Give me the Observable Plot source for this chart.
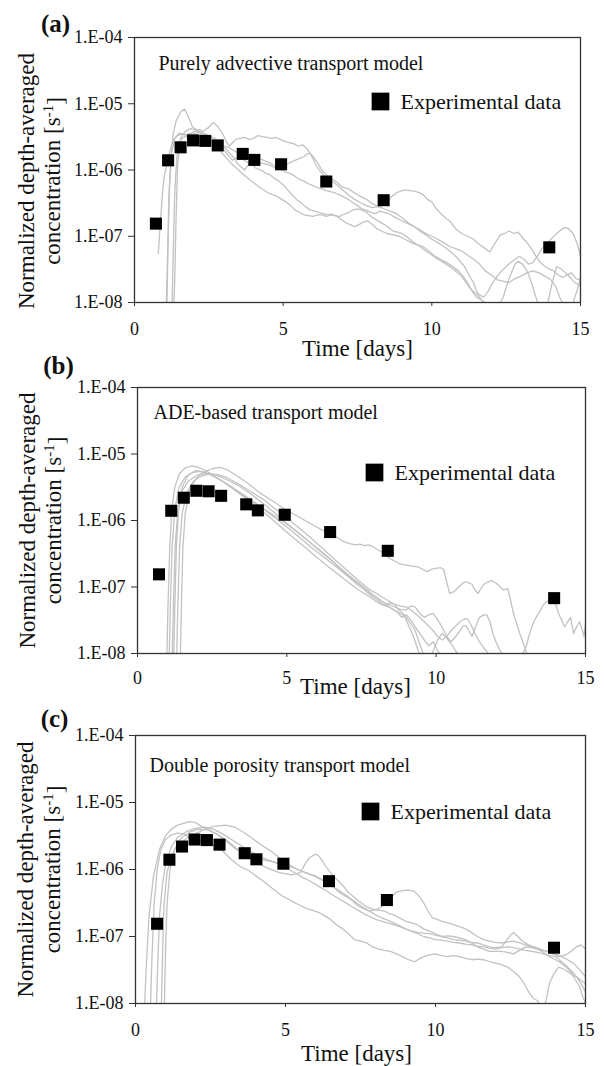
<!DOCTYPE html>
<html><head><meta charset="utf-8">
<script src="https://cdn.jsdelivr.net/npm/d3@7"></script>
<script src="https://cdn.jsdelivr.net/npm/@observablehq/plot@0.6"></script>
<style>
body{margin:0;background:#fff;width:606px;height:1066px;position:relative;overflow:hidden}
.panel{position:absolute;left:0}
svg{overflow:visible}
</style></head><body>
<div id="pa" class="panel" style="top:0px"></div>
<div id="pb" class="panel" style="top:340px"></div>
<div id="pc" class="panel" style="top:700px"></div>
<script>
// ---------- data ----------
const expDays = [0.72, 1.13, 1.55, 1.97, 2.38, 2.8, 3.64, 4.03, 4.93, 6.45, 8.38, 13.95];
const expConc = [1.55e-7, 1.4e-6, 2.2e-6, 2.8e-6, 2.75e-6, 2.35e-6, 1.75e-6, 1.42e-6, 1.22e-6, 6.7e-7, 3.5e-7, 6.8e-8];

const yTicks = [1e-8, 1e-7, 1e-6, 1e-5, 1e-4];
const yTickLabels = ["1.E-08", "1.E-07", "1.E-06", "1.E-05", "1.E-04"];
const xTicks = [0, 5, 10, 15];
const panelLetters = ["(a)", "(b)", "(c)"];
const modelNames = ["Purely advective transport model", "ADE-based transport model", "Double porosity transport model"];
const legendLabel = "Experimental data";
const xLabel = "Time [days]";
const yLabelLines = ["Normalized depth-averaged", "concentration [s-1]"];

// (a) purely advective model runs: [day, concentration]
const adv1 = [[1.25,5e-9],[1.3,5e-8],[1.35,4e-7],[1.42,1.5e-6],[1.5,2.6e-6],[1.6,3.0e-6],[1.7,3.2e-6],[1.8,3.5e-6],[1.9,3.6e-6],[2.0,3.8e-6],[2.1,3.9e-6],[2.2,4.1e-6],[2.3,3.8e-6],[2.4,4.1e-6],[2.5,4.4e-6],[2.58,4.9e-6],[2.65,5.2e-6],[2.72,4.9e-6],[2.8,4.5e-6],[2.9,3.9e-6],[3.0,3.3e-6],[3.1,2.6e-6],[3.2,2.3e-6],[3.3,2.6e-6],[3.4,2.9e-6],[3.55,3.0e-6],[3.7,3.1e-6],[3.85,2.9e-6],[4.0,3.0e-6],[4.15,3.3e-6],[4.3,3.2e-6],[4.45,3.1e-6],[4.6,3.0e-6],[4.75,3.1e-6],[4.9,2.9e-6],[5.05,2.7e-6],[5.2,2.6e-6],[5.35,2.5e-6],[5.5,2.3e-6],[5.65,2.4e-6],[5.8,2.1e-6],[5.9,1.8e-6],[6.0,1.6e-6],[6.15,1.3e-6],[6.3,1.0e-6],[6.45,8.5e-7],[6.6,7.5e-7],[6.8,6.6e-7],[7.0,5.5e-7],[7.2,5.2e-7],[7.4,4.5e-7],[7.6,4.0e-7],[7.8,3.6e-7],[8.0,3.1e-7],[8.2,2.8e-7],[8.35,3.0e-7],[8.5,3.3e-7],[8.65,4.0e-7],[8.8,4.5e-7],[8.95,4.8e-7],[9.1,5e-7],[9.25,4.9e-7],[9.4,4.8e-7],[9.55,4.6e-7],[9.7,4.3e-7],[9.85,3.6e-7],[10.0,3.3e-7],[10.15,2.6e-7],[10.3,2.2e-7],[10.45,1.9e-7],[10.6,1.7e-7],[10.8,1.3e-7],[11.0,1.1e-7],[11.2,1.0e-7],[11.4,9e-8],[11.6,7.5e-8],[11.8,6.5e-8],[11.95,5.8e-8],[12.1,7.5e-8],[12.3,1.05e-7],[12.45,1.1e-7],[12.6,1.2e-7],[12.75,1.1e-7],[12.9,1.15e-7],[13.05,9.5e-8],[13.2,8e-8],[13.35,6.5e-8],[13.5,5e-8],[13.65,4e-8],[13.8,3.5e-8],[13.95,3.2e-8],[14.1,3e-8],[14.25,2.6e-8],[14.4,2.4e-8],[14.55,2.6e-8],[14.7,2.8e-8],[14.85,2.3e-8],[15.0,2.2e-8]];
const adv2 = [[1.05,5e-9],[1.1,3e-8],[1.15,3e-7],[1.22,1.5e-6],[1.3,3.5e-6],[1.4,5.5e-6],[1.55,7.5e-6],[1.68,8.3e-6],[1.8,6.5e-6],[1.95,4.5e-6],[2.1,4.0e-6],[2.3,3.6e-6],[2.5,3.3e-6],[2.7,3.0e-6],[2.9,2.5e-6],[3.1,2.0e-6],[3.3,1.6e-6],[3.5,1.2e-6],[3.7,1.0e-6],[3.8,1.15e-6],[3.9,1.3e-6],[4.05,1.45e-6],[4.2,1.5e-6],[4.35,1.4e-6],[4.5,1.3e-6],[4.65,1.2e-6],[4.8,1.1e-6],[4.95,1.15e-6],[5.1,1.2e-6],[5.25,1.3e-6],[5.4,1.4e-6],[5.55,1.5e-6],[5.7,1.6e-6],[5.8,1.75e-6],[5.9,1.8e-6],[6.0,1.5e-6],[6.1,1.2e-6],[6.25,9.5e-7],[6.4,8e-7],[6.6,7e-7],[6.8,6e-7],[7.0,5e-7],[7.2,4.2e-7],[7.4,3.6e-7],[7.6,3.2e-7],[7.8,2.9e-7],[8.0,2.7e-7],[8.2,2.8e-7],[8.4,2.6e-7],[8.6,2.4e-7],[8.8,2.2e-7],[9.0,1.9e-7],[9.2,1.6e-7],[9.4,1.4e-7],[9.6,1.2e-7],[9.8,1.05e-7],[10.0,9e-8],[10.2,8e-8],[10.4,7e-8],[10.6,6e-8],[10.8,5e-8],[10.95,4.2e-8],[11.1,3.5e-8],[11.25,2.6e-8],[11.4,2e-8],[11.5,1.5e-8],[11.6,1.3e-8],[11.75,1.2e-8],[11.9,1.5e-8],[12.05,2e-8],[12.2,2.5e-8],[12.35,3e-8],[12.5,3.5e-8],[12.65,4e-8],[12.8,4.5e-8],[12.95,5e-8],[13.1,4.5e-8],[13.25,3.8e-8],[13.4,4e-8],[13.55,5e-8],[13.7,6.5e-8],[13.85,7.5e-8],[14.0,9e-8],[14.15,1.05e-7],[14.3,1.2e-7],[14.45,1.35e-7],[14.6,1.3e-7],[14.75,1.1e-7],[14.9,7.5e-8],[15.0,5e-8]];
const adv3 = [[1.3,5e-9],[1.35,2e-8],[1.4,2e-7],[1.45,1.2e-6],[1.55,3e-6],[1.7,3.8e-6],[1.9,4.2e-6],[2.1,4.0e-6],[2.3,3.2e-6],[2.5,2.6e-6],[2.6,2.7e-6],[2.7,2.8e-6],[2.8,2.6e-6],[2.9,2.3e-6],[3.0,2.0e-6],[3.1,1.8e-6],[3.2,1.55e-6],[3.3,1.4e-6],[3.4,1.5e-6],[3.5,1.6e-6],[3.65,1.45e-6],[3.8,1.3e-6],[3.95,1.2e-6],[4.1,1.05e-6],[4.25,1.0e-6],[4.4,9e-7],[4.55,8.5e-7],[4.7,7.5e-7],[4.85,6.8e-7],[5.0,6e-7],[5.15,5e-7],[5.3,4.2e-7],[5.45,3.6e-7],[5.6,3.2e-7],[5.75,2.8e-7],[5.9,2.5e-7],[6.05,2.4e-7],[6.2,2.3e-7],[6.35,2.2e-7],[6.5,2.1e-7],[6.65,2.15e-7],[6.8,2e-7],[6.95,1.8e-7],[7.1,1.6e-7],[7.25,1.5e-7],[7.4,1.4e-7],[7.55,1.5e-7],[7.7,1.65e-7],[7.85,1.7e-7],[8.0,1.5e-7],[8.15,1.3e-7],[8.3,1.2e-7],[8.5,1.1e-7],[8.7,1.05e-7],[8.9,1.0e-7],[9.1,9e-8],[9.3,8e-8],[9.5,7.5e-8],[9.7,7e-8],[9.9,6e-8],[10.1,5e-8],[10.3,4.5e-8],[10.5,4e-8],[10.7,3.5e-8],[10.9,3e-8],[11.05,2.5e-8],[11.2,2e-8],[11.35,1.5e-8],[11.5,1.2e-8],[11.65,1.1e-8],[11.8,1e-8],[11.95,9e-9],[12.1,8e-9],[12.25,9e-9],[12.4,1.2e-8],[12.55,2e-8],[12.7,3e-8],[12.8,3.8e-8],[12.9,4.2e-8],[13.05,3.8e-8],[13.2,3e-8],[13.35,2e-8],[13.5,1.2e-8],[13.6,9e-9],[13.7,8e-9],[13.8,8.5e-9],[13.9,1e-8],[14.05,2e-8],[14.2,3.5e-8],[14.35,3.2e-8],[14.5,2.8e-8],[14.65,2.4e-8],[14.8,2e-8],[14.9,1.9e-8],[15.0,1.8e-8]];
const adv4 = [[0.8,5.5e-8],[0.85,1.2e-7],[0.9,2.5e-7],[0.95,5e-7],[1.0,8e-7],[1.1,1.3e-6],[1.2,2.0e-6],[1.3,2.8e-6],[1.45,3.3e-6],[1.6,3.5e-6],[1.8,3.4e-6],[2.0,3.5e-6],[2.2,3.8e-6],[2.4,3.3e-6],[2.6,2.9e-6],[2.8,2.6e-6],[3.0,2.3e-6],[3.15,2.2e-6],[3.3,2.0e-6],[3.45,1.85e-6],[3.6,1.75e-6],[3.75,1.6e-6],[3.9,1.45e-6],[4.05,1.4e-6],[4.2,1.3e-6],[4.35,1.25e-6],[4.5,1.2e-6],[4.65,1.12e-6],[4.8,1.05e-6],[4.95,1.0e-6],[5.1,9.2e-7],[5.25,8.8e-7],[5.4,8e-7],[5.55,7.2e-7],[5.7,6.8e-7],[5.85,6.2e-7],[6.0,5.8e-7],[6.15,5.4e-7],[6.3,5.2e-7],[6.45,4.9e-7],[6.6,4.7e-7],[6.75,4.5e-7],[6.9,4.2e-7],[7.05,3.9e-7],[7.2,3.6e-7],[7.35,3.2e-7],[7.5,2.9e-7],[7.65,2.6e-7],[7.8,2.45e-7],[7.95,2.3e-7],[8.1,2.2e-7],[8.25,2.4e-7],[8.4,2.3e-7],[8.55,2.2e-7],[8.7,2.0e-7],[8.85,1.85e-7],[9.0,1.7e-7],[9.2,1.55e-7],[9.4,1.4e-7],[9.6,1.25e-7],[9.8,1.1e-7],[10.0,1.0e-7],[10.2,9e-8],[10.4,8e-8],[10.6,7e-8],[10.8,6.5e-8],[11.0,6e-8],[11.2,5.2e-8],[11.4,4.5e-8],[11.6,3.8e-8],[11.8,3e-8],[12.0,2.6e-8],[12.2,2.2e-8],[12.4,2.1e-8],[12.6,2e-8],[12.8,2.3e-8],[13.0,2.5e-8],[13.2,2.8e-8],[13.4,3e-8],[13.6,2.8e-8],[13.8,2.5e-8],[14.0,2.2e-8],[14.15,1.8e-8],[14.3,1.2e-8],[14.45,9e-9],[14.6,8e-9],[14.75,1e-8],[14.9,1.6e-8],[15.0,2.3e-8]];
const adv5 = [[1.08,5e-9],[1.12,5e-8],[1.17,5e-7],[1.25,1.8e-6],[1.35,3e-6],[1.5,3.6e-6],[1.7,3.4e-6],[1.9,2.6e-6],[2.1,2.5e-6],[2.3,3.0e-6],[2.5,2.7e-6],[2.7,2.3e-6],[2.9,1.9e-6],[3.1,1.5e-6],[3.3,1.2e-6],[3.45,1.05e-6],[3.6,9e-7],[3.75,8e-7],[3.9,7e-7],[4.05,6.2e-7],[4.2,5.5e-7],[4.35,5e-7],[4.5,4.5e-7],[4.65,4.2e-7],[4.8,4e-7],[4.95,3.6e-7],[5.1,3.3e-7],[5.25,2.9e-7],[5.4,2.5e-7],[5.55,2.3e-7],[5.7,2.1e-7],[5.85,2.05e-7],[6.0,2.0e-7],[6.15,2.1e-7],[6.3,2.1e-7],[6.45,2.0e-7],[6.6,2.1e-7],[6.75,2.05e-7],[6.9,2e-7],[7.05,2.15e-7],[7.2,2.3e-7],[7.35,2.5e-7],[7.5,2.6e-7],[7.65,2.5e-7],[7.8,2.3e-7],[7.95,2.0e-7],[8.1,1.8e-7],[8.25,1.65e-7],[8.4,1.5e-7],[8.55,1.35e-7],[8.7,1.2e-7],[8.85,1.15e-7],[9.0,1.1e-7],[9.2,9.5e-8],[9.4,8e-8],[9.6,7e-8],[9.8,6e-8],[10.0,5.2e-8],[10.2,4.5e-8],[10.4,4e-8],[10.6,3.5e-8],[10.8,3e-8],[11.0,2.5e-8],[11.15,2e-8],[11.3,1.6e-8],[11.45,1.4e-8],[11.6,1.2e-8],[11.75,1e-8],[11.9,8e-9],[12.1,9e-9],[12.3,8e-9],[12.5,9e-9],[12.7,8e-9]];

// (b) ADE-based model runs
const ade1 = [[0.97,5e-9],[1.02,5e-8],[1.08,4e-7],[1.15,1.5e-6],[1.25,3.2e-6],[1.4,5e-6],[1.6,6.2e-6],[1.8,6.6e-6],[2.0,6.4e-6],[2.3,5.6e-6],[2.6,4.6e-6],[3.0,3.5e-6],[3.4,2.6e-6],[3.8,2e-6],[4.2,1.5e-6],[4.6,1.1e-6],[5.0,8e-7],[5.4,5.7e-7],[5.8,4e-7],[6.2,2.9e-7],[6.6,2.1e-7],[7.0,1.5e-7],[7.2,1.25e-7],[7.4,1.05e-7],[7.6,9e-8],[7.8,7.5e-8],[8.0,6.5e-8],[8.2,5.5e-8],[8.4,5e-8],[8.6,4.5e-8],[8.8,4e-8],[9.0,3.5e-8],[9.15,2.8e-8],[9.3,2.2e-8],[9.4,1.6e-8],[9.5,1.2e-8],[9.6,9e-9],[9.7,8e-9],[9.8,9e-9],[9.9,1.1e-8],[10.05,1.6e-8],[10.2,2e-8],[10.35,1.7e-8],[10.5,1.4e-8],[10.65,1.1e-8],[10.8,9e-9],[11.0,8e-9]];
const ade2 = [[1.42,5e-9],[1.47,5e-8],[1.52,4e-7],[1.6,1.3e-6],[1.75,2.8e-6],[1.95,4.2e-6],[2.2,5.3e-6],[2.5,6.0e-6],[2.75,6.3e-6],[3.0,5.8e-6],[3.3,4.8e-6],[3.7,3.6e-6],[4.1,2.6e-6],[4.5,2.0e-6],[4.9,1.5e-6],[5.3,1.2e-6],[5.7,9.5e-7],[6.1,7.5e-7],[6.5,6.2e-7],[6.7,5.5e-7],[6.9,4.8e-7],[7.1,4.5e-7],[7.3,4.3e-7],[7.45,4.4e-7],[7.6,4.2e-7],[7.75,4.3e-7],[7.9,4e-7],[8.05,3.6e-7],[8.2,3.3e-7],[8.35,2.9e-7],[8.5,2.6e-7],[8.65,2.4e-7],[8.8,2.2e-7],[8.95,2.15e-7],[9.1,2.1e-7],[9.25,2.05e-7],[9.4,2e-7],[9.55,1.85e-7],[9.7,1.7e-7],[9.85,1.85e-7],[10.0,1.9e-7],[10.15,1.95e-7],[10.25,1.85e-7],[10.35,1.2e-7],[10.45,8e-8],[10.6,8.5e-8],[10.75,1e-7],[10.9,1.15e-7],[11.0,1.2e-7],[11.1,1.15e-7],[11.2,1.1e-7],[11.3,9e-8],[11.4,8e-8],[11.5,9.5e-8],[11.6,1.1e-7],[11.75,1.2e-7],[11.85,1.25e-7],[12.0,1.15e-7],[12.1,1.05e-7],[12.25,9e-8],[12.4,9.5e-8],[12.5,6e-8],[12.6,3.8e-8],[12.7,2.8e-8],[12.8,2e-8],[12.9,1.5e-8],[13.0,1.1e-8],[13.1,8e-9]];
const ade3 = [[1.15,5e-9],[1.2,5e-8],[1.26,4e-7],[1.35,1.4e-6],[1.5,2.8e-6],[1.7,3.9e-6],[2.0,4.8e-6],[2.3,5.1e-6],[2.6,4.9e-6],[3.0,4.1e-6],[3.4,3.3e-6],[3.8,2.5e-6],[4.2,1.8e-6],[4.6,1.3e-6],[5.0,9e-7],[5.4,6.5e-7],[5.8,4.6e-7],[6.2,3.3e-7],[6.6,2.3e-7],[7.0,1.6e-7],[7.2,1.35e-7],[7.4,1.15e-7],[7.6,9.5e-8],[7.8,8e-8],[8.0,7e-8],[8.2,6e-8],[8.4,5.5e-8],[8.6,5e-8],[8.8,4.6e-8],[9.0,4.5e-8],[9.15,5.2e-8],[9.3,5e-8],[9.45,4e-8],[9.6,3.5e-8],[9.75,3.8e-8],[9.9,4e-8],[10.05,3.2e-8],[10.2,2.5e-8],[10.35,1.8e-8],[10.5,1.5e-8],[10.65,1.8e-8],[10.8,2.2e-8],[10.9,2.6e-8],[11.0,2.6e-8],[11.1,2.2e-8],[11.2,1.8e-8],[11.3,2.4e-8],[11.45,3.5e-8],[11.6,3.8e-8],[11.7,3.8e-8],[11.8,3e-8],[11.9,2e-8],[12.0,1.5e-8],[12.1,1.2e-8],[12.2,1e-8],[12.3,9e-9],[12.6,8e-9],[12.9,1e-8],[13.0,1.2e-8],[13.1,1.8e-8],[13.2,2.5e-8],[13.3,3.2e-8],[13.4,3.8e-8],[13.5,4.5e-8],[13.6,5.5e-8],[13.7,6e-8],[13.8,6.5e-8],[13.9,7e-8],[14.0,5.5e-8],[14.1,4e-8],[14.2,3.2e-8],[14.3,2.5e-8],[14.4,3e-8],[14.5,3.5e-8],[14.6,2e-8],[14.7,2.5e-8],[14.8,3e-8],[14.9,2.2e-8],[14.95,1.8e-8],[15.0,2.8e-8],[15.05,3.5e-8]];
const ade4 = [[1.05,5e-9],[1.1,5e-8],[1.16,4e-7],[1.25,1.5e-6],[1.4,3.2e-6],[1.6,4.5e-6],[1.85,5.3e-6],[2.1,5.5e-6],[2.4,5.0e-6],[2.8,4.0e-6],[3.2,3.0e-6],[3.6,2.2e-6],[4.0,1.6e-6],[4.4,1.15e-6],[4.8,8e-7],[5.2,5.6e-7],[5.6,4e-7],[6.0,2.8e-7],[6.4,2e-7],[6.8,1.45e-7],[7.2,1.05e-7],[7.4,9e-8],[7.6,8e-8],[7.8,7e-8],[8.0,6e-8],[8.15,5.5e-8],[8.3,5.2e-8],[8.45,5.8e-8],[8.6,5.5e-8],[8.75,4.5e-8],[8.9,4e-8],[9.0,3.2e-8],[9.1,2.5e-8],[9.2,2e-8],[9.3,1.5e-8],[9.4,1.1e-8],[9.5,9e-9],[9.7,8e-9]];
const ade5 = [[1.3,5e-9],[1.35,5e-8],[1.41,4e-7],[1.5,1.3e-6],[1.65,2.6e-6],[1.85,3.8e-6],[2.1,4.6e-6],[2.4,5.0e-6],[2.7,4.9e-6],[3.0,4.4e-6],[3.4,3.5e-6],[3.8,2.7e-6],[4.2,2.1e-6],[4.6,1.5e-6],[5.0,1.1e-6],[5.4,7.8e-7],[5.8,5.5e-7],[6.2,3.8e-7],[6.6,2.6e-7],[7.0,1.8e-7],[7.2,1.5e-7],[7.4,1.25e-7],[7.6,1.05e-7],[7.8,9e-8],[8.0,8e-8],[8.2,7e-8],[8.4,6.2e-8],[8.6,5.5e-8],[8.8,5.2e-8],[9.0,5e-8],[9.15,4.5e-8],[9.3,4e-8],[9.45,3.5e-8],[9.6,3e-8],[9.75,2.6e-8],[9.9,2.2e-8],[10.05,1.8e-8],[10.2,1.6e-8],[10.35,1.8e-8],[10.5,2.2e-8],[10.65,2.6e-8],[10.8,3e-8],[10.95,3.3e-8],[11.05,3.3e-8],[11.15,2.8e-8],[11.3,2e-8],[11.45,1.5e-8],[11.6,1.2e-8],[11.75,1e-8],[11.9,9e-9],[12.2,8e-9]];
const ade6 = [[1.2,5e-9],[1.25,5e-8],[1.3,4e-7],[1.38,1.5e-6],[1.5,3.2e-6],[1.7,4.8e-6],[1.95,5.6e-6],[2.2,5.4e-6],[2.5,4.8e-6],[2.9,3.8e-6],[3.3,2.9e-6],[3.7,2.2e-6],[4.1,1.65e-6],[4.5,1.25e-6],[4.9,9.5e-7],[5.3,7e-7],[5.7,5e-7],[6.1,3.5e-7],[6.5,2.5e-7],[6.9,1.7e-7],[7.3,1.2e-7],[7.5,1.05e-7],[7.7,9e-8],[7.9,7.5e-8],[8.1,6.5e-8],[8.3,5.5e-8],[8.5,4.8e-8],[8.7,4.2e-8],[8.85,3.5e-8],[9.0,3.8e-8],[9.15,3.2e-8],[9.3,2.5e-8],[9.45,2e-8],[9.6,1.6e-8],[9.75,1.3e-8],[9.9,1.5e-8],[10.05,1.1e-8],[10.2,9e-9],[10.4,8e-9]];

// (c) double porosity model runs
const dpo1 = [[0.28,5e-9],[0.35,3e-8],[0.45,2e-7],[0.6,8e-7],[0.8,2e-6],[1.0,3.2e-6],[1.2,4e-6],[1.4,4.6e-6],[1.6,4.9e-6],[1.8,5.2e-6],[2.0,5e-6],[2.2,4.4e-6],[2.5,3.8e-6],[2.8,3.2e-6],[3.1,2.6e-6],[3.4,2e-6],[3.7,1.6e-6],[4.0,1.3e-6],[4.4,1.05e-6],[4.8,9e-7],[5.2,8.3e-7],[5.5,9e-7],[5.65,1.2e-6],[5.8,1.5e-6],[5.9,1.6e-6],[6.0,1.7e-6],[6.1,1.6e-6],[6.2,1.4e-6],[6.35,1.1e-6],[6.5,9e-7],[6.65,7.5e-7],[6.8,6.5e-7],[6.95,5.5e-7],[7.1,4.5e-7],[7.25,4e-7],[7.4,3.5e-7],[7.55,3.1e-7],[7.7,2.8e-7],[7.85,2.6e-7],[8.0,2.5e-7],[8.15,2.45e-7],[8.3,2.4e-7],[8.45,2.2e-7],[8.6,2.1e-7],[8.8,1.9e-7],[9.0,1.7e-7],[9.2,1.6e-7],[9.4,1.5e-7],[9.6,1.3e-7],[9.8,1.2e-7],[10.0,1.1e-7],[10.2,1e-7],[10.4,9.5e-8],[10.6,9e-8],[10.8,8.8e-8],[11.0,8.5e-8],[11.2,8.2e-8],[11.4,8e-8],[11.6,7.5e-8],[11.8,7e-8],[12.0,6.8e-8],[12.2,7e-8],[12.35,8.5e-8],[12.5,1.05e-7],[12.6,1.15e-7],[12.75,1e-7],[12.9,8.5e-8],[13.1,7.5e-8],[13.3,7e-8],[13.5,6.5e-8],[13.7,6e-8],[13.9,5.5e-8],[14.1,5e-8],[14.25,5.2e-8],[14.4,5.5e-8],[14.55,6.2e-8],[14.7,7e-8],[14.85,7.5e-8],[15.0,6.5e-8]];
const dpo2 = [[0.85,5e-9],[0.9,5e-8],[0.95,3e-7],[1.05,9e-7],[1.2,1.6e-6],[1.4,2.3e-6],[1.7,2.9e-6],[2.0,3.4e-6],[2.3,4.0e-6],[2.6,4.4e-6],[3.0,4.6e-6],[3.3,4.3e-6],[3.6,3.6e-6],[3.9,2.9e-6],[4.2,2.3e-6],[4.5,1.9e-6],[4.8,1.5e-6],[5.1,1.2e-6],[5.4,1.0e-6],[5.6,9.2e-7],[5.8,8.5e-7],[6.0,8e-7],[6.2,7.2e-7],[6.4,6.5e-7],[6.6,5.5e-7],[6.8,4.5e-7],[7.0,4e-7],[7.2,3.5e-7],[7.4,2.9e-7],[7.6,2.6e-7],[7.8,2.4e-7],[7.95,2.5e-7],[8.1,2.6e-7],[8.25,2.9e-7],[8.4,3.3e-7],[8.55,4e-7],[8.7,4.6e-7],[8.85,4.8e-7],[9.0,4.9e-7],[9.15,4.9e-7],[9.3,4.7e-7],[9.45,4e-7],[9.6,3.2e-7],[9.75,2.4e-7],[9.9,1.9e-7],[10.05,1.8e-7],[10.2,1.7e-7],[10.4,1.6e-7],[10.6,1.5e-7],[10.8,1.4e-7],[11.0,1.3e-7],[11.2,1.15e-7],[11.4,1e-7],[11.6,9e-8],[11.8,8.5e-8],[12.0,8.2e-8],[12.2,8e-8],[12.4,8.3e-8],[12.6,8.5e-8],[12.8,8e-8],[13.0,7.5e-8],[13.2,7e-8],[13.4,6.5e-8],[13.6,5.8e-8],[13.8,5e-8],[14.0,4.5e-8],[14.2,4e-8],[14.35,3.5e-8],[14.5,3e-8],[14.65,2.3e-8],[14.8,1.8e-8],[14.9,1.3e-8],[15.0,1e-8]];
const dpo3 = [[0.48,5e-9],[0.55,5e-8],[0.62,3e-7],[0.72,1e-6],[0.85,2.0e-6],[1.0,2.8e-6],[1.2,3.3e-6],[1.4,3.5e-6],[1.6,3.4e-6],[1.8,3.0e-6],[2.0,2.8e-6],[2.3,2.6e-6],[2.6,2.3e-6],[2.9,1.9e-6],[3.2,1.4e-6],[3.5,1.1e-6],[3.8,9.5e-7],[4.1,7.5e-7],[4.3,6.5e-7],[4.5,5.5e-7],[4.7,4.7e-7],[4.9,4e-7],[5.1,3.6e-7],[5.3,3.2e-7],[5.5,2.9e-7],[5.7,2.6e-7],[5.9,2.45e-7],[6.1,2.3e-7],[6.3,2.05e-7],[6.5,1.8e-7],[6.7,1.5e-7],[6.9,1.3e-7],[7.1,1.1e-7],[7.3,9e-8],[7.5,8.5e-8],[7.7,8e-8],[7.9,7e-8],[8.1,6.5e-8],[8.3,6.2e-8],[8.5,6e-8],[8.7,5.5e-8],[8.9,5e-8],[9.1,4.5e-8],[9.3,4.2e-8],[9.45,4.6e-8],[9.6,5e-8],[9.8,5.3e-8],[10.0,5.5e-8],[10.2,5.2e-8],[10.4,5e-8],[10.6,5.2e-8],[10.8,5e-8],[11.0,4.7e-8],[11.2,4.5e-8],[11.4,4.6e-8],[11.6,4.5e-8],[11.8,4.2e-8],[12.0,4e-8],[12.2,3.8e-8],[12.4,3.5e-8],[12.6,3e-8],[12.8,2.5e-8],[12.95,2e-8],[13.1,1.5e-8],[13.25,1.2e-8],[13.4,1.1e-8],[13.5,9e-9],[13.6,8e-9],[13.7,1.2e-8],[13.8,2e-8],[13.95,2.8e-8],[14.1,3.5e-8],[14.25,3.3e-8],[14.4,3e-8],[14.55,2.7e-8],[14.7,2.5e-8],[14.85,2.2e-8],[15.0,2e-8]];
const dpo4 = [[0.7,1e-8],[0.75,5e-8],[0.8,2e-7],[0.9,6e-7],[1.0,1.2e-6],[1.2,2.2e-6],[1.4,3.0e-6],[1.7,3.7e-6],[2.0,4.1e-6],[2.3,4.3e-6],[2.6,4.0e-6],[2.9,3.4e-6],[3.2,2.8e-6],[3.5,2.3e-6],[3.8,1.9e-6],[4.1,1.6e-6],[4.4,1.4e-6],[4.8,1.2e-6],[5.0,1.08e-6],[5.2,9.5e-7],[5.4,8.5e-7],[5.6,7.5e-7],[5.8,6.8e-7],[6.0,6e-7],[6.2,5.3e-7],[6.4,4.7e-7],[6.6,4.1e-7],[6.8,3.6e-7],[7.0,3.2e-7],[7.2,2.8e-7],[7.4,2.5e-7],[7.6,2.2e-7],[7.8,2e-7],[8.0,1.8e-7],[8.2,1.7e-7],[8.4,1.6e-7],[8.6,1.5e-7],[8.8,1.4e-7],[9.0,1.3e-7],[9.2,1.2e-7],[9.4,1.1e-7],[9.6,1.0e-7],[9.8,9.5e-8],[10.0,9e-8],[10.2,8.8e-8],[10.4,8.5e-8],[10.6,8.2e-8],[10.8,8e-8],[11.0,7.7e-8],[11.2,7.5e-8],[11.4,7.2e-8],[11.6,7e-8],[11.8,6.7e-8],[12.0,6.5e-8],[12.2,6.8e-8],[12.4,7e-8],[12.6,6.8e-8],[12.8,6.5e-8],[13.0,6.2e-8],[13.2,6e-8],[13.4,5.8e-8],[13.6,5.5e-8],[13.8,5.2e-8],[14.0,5e-8],[14.2,4.2e-8],[14.4,3.5e-8],[14.55,3e-8],[14.7,2.5e-8],[14.85,2e-8],[15.0,1.5e-8]];
const dpo5 = [[0.95,5e-9],[1.0,6e-8],[1.05,3e-7],[1.15,1e-6],[1.3,2e-6],[1.5,2.9e-6],[1.8,3.6e-6],[2.1,4.0e-6],[2.4,3.9e-6],[2.7,3.4e-6],[3.0,2.7e-6],[3.3,2.1e-6],[3.6,1.7e-6],[3.9,1.5e-6],[4.2,1.4e-6],[4.6,1.3e-6],[5.0,1.15e-6],[5.2,1.08e-6],[5.4,1.0e-6],[5.6,9.2e-7],[5.8,8.5e-7],[6.0,7.8e-7],[6.2,7e-7],[6.4,6.2e-7],[6.6,5.5e-7],[6.8,4.8e-7],[7.0,4.2e-7],[7.2,3.6e-7],[7.4,3.1e-7],[7.6,2.7e-7],[7.8,2.4e-7],[8.0,2.1e-7],[8.2,1.9e-7],[8.4,1.75e-7],[8.6,1.6e-7],[8.8,1.45e-7],[9.0,1.3e-7],[9.2,1.2e-7],[9.4,1.15e-7],[9.6,1.12e-7],[9.8,1.1e-7],[10.0,1.05e-7],[10.2,1e-7],[10.4,1.02e-7],[10.6,1.0e-7],[10.8,9.5e-8],[11.0,9e-8],[11.2,8e-8],[11.4,7e-8],[11.6,6.5e-8],[11.8,6e-8],[12.0,6e-8],[12.2,6e-8],[12.4,5.8e-8],[12.6,5.5e-8],[12.8,6.2e-8],[13.0,7e-8],[13.2,6.8e-8],[13.4,6.5e-8],[13.6,6.2e-8],[13.8,6e-8],[14.0,5.5e-8],[14.2,5e-8],[14.4,4.5e-8],[14.6,4e-8],[14.8,3.2e-8],[15.0,2.5e-8]];

const panelRuns = [[adv1, adv2, adv3, adv4, adv5], [ade1, ade2, ade3, ade4, ade5, ade6], [dpo1, dpo2, dpo3, dpo4, dpo5]];

// ---------- layout (pixels) ----------
const FONT = "'Liberation Serif', 'Times New Roman', serif";
const layouts = [
  {el: "#pa", height: 360, mt: 37, mb: 58, ml: 134, mr: 26, letter: [-79, -14], ylab: [-108, -82, 11], note: [24, 26], leg: [246, 64], xlabDy: 46, xlabDx: 0, tickPad: 16},
  {el: "#pb", height: 360, mt: 47, mb: 47, ml: 137, mr: 21, letter: [-79, -22], ylab: [-110, -84, 0], note: [16, 25], leg: [237, 85], xlabDy: 33, xlabDx: -6, tickPad: 14},
  {el: "#pc", height: 366, mt: 35, mb: 63, ml: 135, mr: 21, letter: [-81, -17], ylab: [-110, -83, 0], note: [14, 30], leg: [235, 76], xlabDy: 50, xlabDx: -4, tickPad: 16}
];

const expRows = expDays.map((t, i) => ({t, c: expConc[i]}));

layouts.forEach((L, p) => {
  const rows = panelRuns[p].flatMap((run, k) => run.map(([t, c]) => ({t, c, run: k})));
  const one = [0];
  const chart = Plot.plot({
    width: 606, height: L.height,
    marginTop: L.mt, marginBottom: L.mb, marginLeft: L.ml, marginRight: L.mr,
    style: {fontFamily: FONT, fontSize: "18px", color: "#111", background: "transparent", overflow: "visible"},
    x: {domain: [0, 15]},
    y: {type: "log", domain: [1e-8, 1e-4]},
    marks: [
      Plot.line(rows, {x: "t", y: "c", z: "run", stroke: "#c2c2c2", strokeWidth: 1.3, clip: true}),
      Plot.frame({stroke: "#333", strokeWidth: 1.3}),
      Plot.axisY({ticks: yTicks, tickFormat: d => yTickLabels[yTicks.indexOf(d)], tickSize: 6, tickPadding: 6, label: null, stroke: "#333"}),
      Plot.axisX({ticks: xTicks, tickSize: 4, tickPadding: L.tickPad, label: null, stroke: "#333"}),
      Plot.dot(expRows, {x: "t", y: "c", symbol: "square", r: 6.8, fill: "#000", stroke: "none"}),
      Plot.text(one, {text: () => panelLetters[p], frameAnchor: "top-left", dx: L.letter[0], dy: L.letter[1], fontSize: 25, fontWeight: "bold", textAnchor: "middle", lineAnchor: "middle"}),
      Plot.text(one, {text: () => yLabelLines[0], frameAnchor: "left", dx: L.ylab[0], dy: L.ylab[2], rotate: -90, fontSize: 23, textAnchor: "middle", lineAnchor: "middle"}),
      Plot.text(one, {text: () => yLabelLines[1], frameAnchor: "left", dx: L.ylab[1], dy: L.ylab[2], rotate: -90, fontSize: 23, textAnchor: "middle", lineAnchor: "middle"}),
      Plot.text(one, {text: () => modelNames[p], frameAnchor: "top-left", dx: L.note[0], dy: L.note[1], fontSize: 20, textAnchor: "start", lineAnchor: "middle"}),
      Plot.dot(one, {frameAnchor: "top-left", dx: L.leg[0], dy: L.leg[1], symbol: "square", r: 10, fill: "#000", stroke: "none"}),
      Plot.text(one, {text: () => legendLabel, frameAnchor: "top-left", dx: L.leg[0] + 20, dy: L.leg[1], fontSize: 22, textAnchor: "start", lineAnchor: "middle"}),
      Plot.text(one, {text: () => xLabel, frameAnchor: "bottom", dx: L.xlabDx, dy: L.xlabDy, fontSize: 23, textAnchor: "middle", lineAnchor: "middle"})
    ]
  });
  // superscript for s^-1
  chart.querySelectorAll("text").forEach(t => {
    if (t.textContent === yLabelLines[1]) {
      t.textContent = "";
      const ns = "http://www.w3.org/2000/svg";
      const a = document.createElementNS(ns, "tspan"); a.textContent = "concentration [s";
      const b = document.createElementNS(ns, "tspan"); b.textContent = "-1"; b.setAttribute("dy", "-0.45em"); b.setAttribute("font-size", "15");
      const c = document.createElementNS(ns, "tspan"); c.textContent = "]"; c.setAttribute("dy", "0.45em");
      t.append(a, b, c);
    }
  });
  document.querySelector(L.el).append(chart);
});
</script>
</body></html>
